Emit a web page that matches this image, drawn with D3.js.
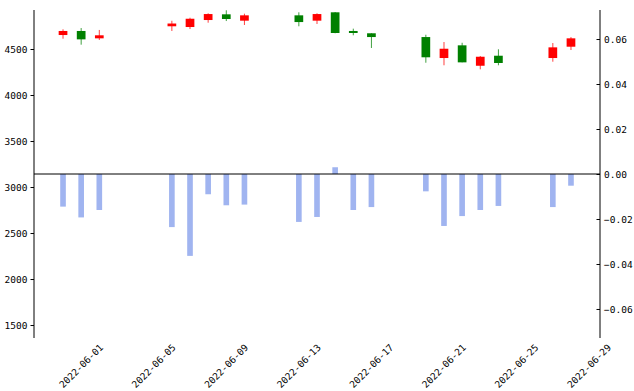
<!DOCTYPE html>
<html>
<head>
<meta charset="utf-8">
<script src="https://cdn.jsdelivr.net/npm/d3@7"></script>
<style>
  html, body { margin: 0; padding: 0; background: #fff; }
  svg { display: block; }
  text { font-family: "DejaVu Sans Mono", monospace; font-size: 9.5px; fill: #000; }
</style>
</head>
<body>
<svg id="chart" width="634" height="391"></svg>
<script>
// Trading days
const dates = ["2022-05-31","2022-06-01","2022-06-02",
  "2022-06-06","2022-06-07","2022-06-08","2022-06-09","2022-06-10",
  "2022-06-13","2022-06-14","2022-06-15","2022-06-16","2022-06-17",
  "2022-06-20","2022-06-21","2022-06-22","2022-06-23","2022-06-24",
  "2022-06-27","2022-06-28"];

// Daily OHLC of the index
const open  = [4652,4696,4616,4747,4739,4815,4877,4808,4866,4808,4899,4696,4671,4630,4402,4540,4318,4427,4402,4525];
const high  = [4714,4728,4707,4807,4840,4888,4921,4884,4899,4888,4902,4721,4671,4655,4576,4568,4424,4497,4565,4630];
const low   = [4612,4547,4598,4696,4717,4786,4804,4761,4747,4772,4671,4649,4511,4351,4323,4355,4279,4323,4362,4489];
const close = [4696,4605,4649,4777,4829,4880,4826,4866,4793,4880,4674,4674,4630,4410,4503,4355,4416,4348,4518,4616];

// Daily spread series (right axis)
const spread = [-0.0145,-0.0193,-0.0160,-0.0236,-0.0364,-0.0090,-0.0139,-0.0136,
  -0.0213,-0.0191,0.0030,-0.0160,-0.0147,-0.0077,-0.0231,-0.0187,-0.0160,-0.0142,
  -0.0147,-0.0052];

// Axis ticks
const leftTicks  = [1500,2000,2500,3000,3500,4000,4500];
const rightTicks = [-0.06,-0.04,-0.02,0,0.02,0.04,0.06];
const xTickLabels = ["2022-06-01","2022-06-05","2022-06-09","2022-06-13",
  "2022-06-17","2022-06-21","2022-06-25","2022-06-29"];

const parse = d3.utcParse("%Y-%m-%d");
const DAY = 864e5;
const dt = dates.map(parse);

const plotL = 34, plotR = 600, plotT = 10, plotB = 338;
const svg = d3.select("#chart");

const x = d3.scaleUtc()
  .domain([new Date(+dt[0] - 1.6 * DAY), new Date(+dt[dt.length - 1] + 1.6 * DAY)])
  .range([plotL, plotR]);
const yL = d3.scaleLinear().domain([1359, 4924]).range([plotB, plotT]);
const yR = d3.scaleLinear().domain([-0.0729, 0.0729]).range([plotB, plotT]);

const dayPx = x(new Date(+dt[0] + DAY)) - x(dt[0]);
const bodyW = dayPx * 0.48;
const barW = dayPx * 0.31;

// spread bars
svg.append("g").selectAll("rect").data(spread).join("rect")
  .attr("x", (d, i) => x(dt[i]) - barW / 2)
  .attr("width", barW)
  .attr("y", d => yR(Math.max(0, d)))
  .attr("height", d => Math.abs(yR(d) - yR(0)))
  .attr("fill", "#4169e1")
  .attr("fill-opacity", 0.5);

// zero line of the right axis
svg.append("line")
  .attr("x1", plotL).attr("x2", plotR)
  .attr("y1", yR(0)).attr("y2", yR(0))
  .attr("stroke", "#000").attr("stroke-width", 1);

// candlesticks
const candles = svg.append("g").selectAll("g").data(dates).join("g");
const col = i => close[i] >= open[i] ? "#ff0000" : "#008000";
candles.append("line")
  .attr("x1", (d, i) => x(dt[i])).attr("x2", (d, i) => x(dt[i]))
  .attr("y1", (d, i) => yL(high[i])).attr("y2", (d, i) => yL(low[i]))
  .attr("stroke", (d, i) => col(i)).attr("stroke-width", 1)
  .attr("stroke-opacity", 0.75);
candles.append("rect")
  .attr("x", (d, i) => x(dt[i]) - bodyW / 2)
  .attr("width", bodyW)
  .attr("y", (d, i) => yL(Math.max(open[i], close[i])))
  .attr("height", (d, i) => Math.max(1, Math.abs(yL(open[i]) - yL(close[i]))))
  .attr("fill", (d, i) => col(i));

// left axis
const gL = svg.append("g").attr("transform", `translate(${plotL},0)`)
  .call(d3.axisLeft(yL).tickValues(leftTicks).tickSize(3.5).tickPadding(3).tickFormat(d3.format("d")));
// right axis: ticks point inward, labels outside
const gR = svg.append("g").attr("transform", `translate(${plotR},0)`)
  .call(d3.axisRight(yR).tickValues(rightTicks).tickSize(0).tickPadding(4).tickFormat(d3.format(".2f")));
gR.selectAll(".tick").append("line").attr("x1", -3.5).attr("x2", 0).attr("stroke", "#000");
[gL, gR].forEach(g => {
  g.select(".domain").remove();
  g.selectAll("text").attr("fill", "#000")
    .style("font-family", "'DejaVu Sans Mono', monospace").style("font-size", "9.5px");
  g.append("line").attr("y1", plotT).attr("y2", plotB).attr("stroke", "#000");
});

// date labels, rotated
svg.append("g").selectAll("text").data(xTickLabels).join("text")
  .attr("transform", d => `translate(${x(parse(d))},366) rotate(-45)`)
  .attr("text-anchor", "middle")
  .attr("dy", "0.35em")
  .text(d => d);
</script>
</body>
</html>
